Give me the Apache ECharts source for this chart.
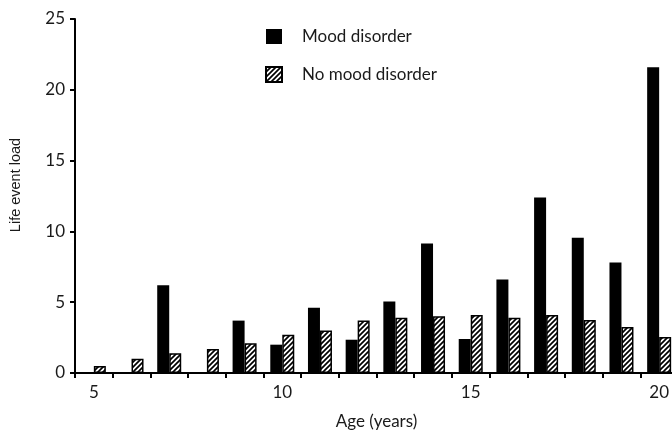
<!DOCTYPE html>
<html><head><meta charset="utf-8">
<script src="https://cdn.jsdelivr.net/npm/echarts@6/dist/echarts.min.js"></script>
<style>html,body{margin:0;padding:0;background:#fff}#c{width:672px;height:432px}</style>
</head><body><div id="c"></div>
<script>
const ages = ['5','6','7','8','9','10','11','12','13','14','15','16','17','18','19','20'];
const moodDisorder = [0,0,6.2,0,3.7,2.0,4.6,2.35,5.05,9.15,2.4,6.6,12.4,9.55,7.8,21.6];
const noMoodDisorder = [0.5,1.0,1.4,1.7,2.1,2.7,3.0,3.7,3.9,4.0,4.1,3.9,4.1,3.75,3.25,2.55];
const yTicks = {min:0, max:25, interval:5};

function hatch(){
  const c = document.createElement('canvas');
  c.width = 5; c.height = 5;
  const g = c.getContext('2d');
  g.fillStyle = '#fff'; g.fillRect(0,0,5,5);
  g.strokeStyle = '#000'; g.lineWidth = 1.7;
  g.beginPath();
  g.moveTo(-1,6); g.lineTo(6,-1);
  g.moveTo(-1,1); g.lineTo(1,-1);
  g.moveTo(4,6); g.lineTo(6,4);
  g.stroke();
  return c;
}
const font = 'Lato';
const chart = echarts.init(document.getElementById('c'));
chart.setOption({
  animation:false,
  backgroundColor:'#fff',
  textStyle:{fontFamily:font,color:'#1a1a1a'},
  legend:{
    orient:'vertical', left:260, top:23, itemWidth:16, itemHeight:15, itemGap:21,
    textStyle:{fontFamily:font,fontSize:17,color:'#1a1a1a',padding:[0,0,0,15]},
    data:[{name:'Mood disorder',icon:'rect'},{name:'No mood disorder',icon:'rect'}]
  },
  grid:{left:75, top:19, bottom:59, width:603, containLabel:false, outerBoundsMode:'none'},
  xAxis:{
    type:'category', data:ages,
    name:'Age (years)', nameLocation:'middle', nameGap:40,
    nameTextStyle:{fontFamily:font,fontSize:17,color:'#1a1a1a'},
    axisLine:{lineStyle:{color:'#000',width:2}},
    axisTick:{show:true, interval:0, length:5, lineStyle:{color:'#000',width:2}},
    axisLabel:{interval:function(i,v){return (+v)%5===0;}, fontFamily:font, fontSize:17, color:'#1a1a1a', margin:11}
  },
  yAxis:{
    type:'value', min:yTicks.min, max:yTicks.max, interval:yTicks.interval,
    name:'Life event load', nameLocation:'middle', nameGap:52,
    nameTextStyle:{fontFamily:'Liberation Sans',fontSize:14.5,color:'#1a1a1a',padding:[0,0,0,22]},
    axisLine:{show:true,lineStyle:{color:'#000',width:2}},
    axisTick:{show:true,length:5,lineStyle:{color:'#000',width:2}},
    splitLine:{show:false},
    axisLabel:{fontFamily:font,fontSize:17,color:'#1a1a1a',margin:10}
  },
  series:[
    {name:'Mood disorder', type:'bar', data:moodDisorder, barWidth:12, barGap:'0%',
     itemStyle:{color:'#000'}},
    {name:'No mood disorder', type:'bar', data:noMoodDisorder, barWidth:12,
     itemStyle:{color:{image:hatch(),repeat:'repeat'}, borderColor:'#000', borderWidth:1.5}}
  ]
});
</script></body></html>
